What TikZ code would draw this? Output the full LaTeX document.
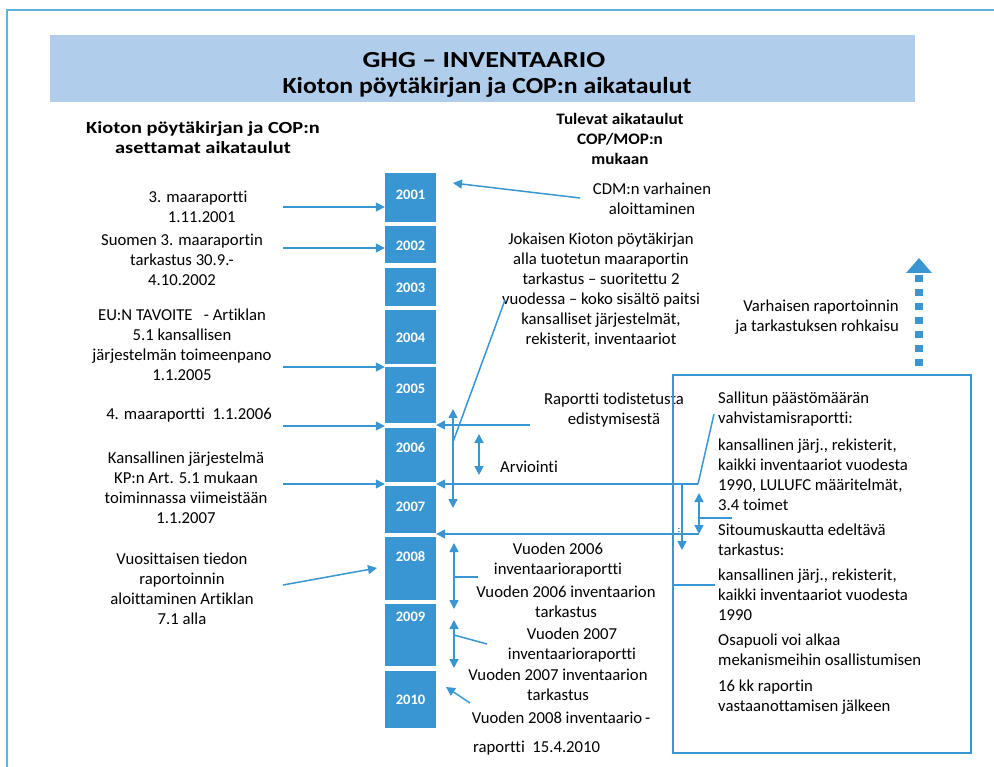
\documentclass[tikz,border=0pt]{standalone}
\usepackage{fontspec}
\usepackage{graphicx}
\setmainfont{Carlito}[Ligatures=NoCommon]
\usetikzlibrary{arrows.meta}
\definecolor{tlblue}{RGB}{57,150,211}
\definecolor{bandblue}{RGB}{176,205,235}
\definecolor{frameblue}{RGB}{98,176,226}
\newcommand{\widen}[2]{\scalebox{#1}[1]{\begin{tabular}{@{}c@{}}#2\end{tabular}}}
\tikzset{
  txt/.style={font=\fontsize{16.7}{20}\selectfont, align=center, inner sep=0pt},
  boxtxt/.style={font=\fontsize{16.7}{20}\selectfont, align=left, inner sep=0pt, anchor=west},
  hdr/.style={font=\bfseries\fontsize{17}{20}\selectfont, align=center, inner sep=0pt},
  yearbox/.style={fill=tlblue, minimum width=51pt, inner sep=0pt},
  yearlbl/.style={text=white, font=\bfseries\fontsize{14.5}{14.5}\selectfont, inner sep=0pt},
  link/.style={draw=tlblue, line width=1.5pt},
  arr/.style={link, -{Triangle[length=9pt,width=9pt]}},
  darr/.style={link, {Triangle[length=9pt,width=9pt]}-{Triangle[length=9pt,width=9pt]}},
}
\begin{document}
\begin{tikzpicture}[x=1pt,y=-1pt]
\useasboundingbox (0,0) rectangle (994,767);

% outer frame and title band
\draw[frameblue, line width=2pt] (7,767) -- (7,10) -- (994,10);
\node[fill=bandblue, minimum width=865pt, minimum height=67pt, inner sep=0pt] (band) at (482.5,68.5) {};
\node[font=\bfseries\fontsize{23}{27}\selectfont, inner sep=0pt] (title1) at (484,60)
  {\scalebox{1.22}[1]{GHG -- INVENTAARIO}};
\node[font=\bfseries\fontsize{23}{27}\selectfont, inner sep=0pt] (title2) at (487,87)
  {\scalebox{1.12}[1]{Kioton pöytäkirjan ja COP:n aikataulut}};

% column headings
\node[hdr] (lefthead) at (203,140) {\widen{1.2}{Kioton pöytäkirjan ja COP:n\\asettamat aikataulut}};
\node[font=\bfseries\fontsize{16}{20}\selectfont, inner sep=0pt] (midhead) at (620,141) {\widen{1.07}{Tulevat aikataulut\\COP/MOP:n\\mukaan}};

% year column
\foreach \nm/\cy/\h/\ly in {2001/197.5/49/195, 2002/244.5/37/246, 2003/287/38/288,
    2004/337/54/338, 2005/395/56/389, 2006/455/54/448, 2007/509.5/47/507,
    2008/568.5/63/557, 2009/635/62/617, 2010/699.5/57/700}{
  \node[yearbox, minimum height=\h pt] (y\nm) at (410.5,\cy) {};
  \node[yearlbl] (l\nm) at (410.5,\ly) {\nm};
}

% left column: deadlines set by the protocol
\node[txt] (t1) at (198,207) {3. maaraportti\\\ \ 1.11.2001};
\node[txt] (t2) at (182,260) {Suomen 3. maaraportin\\tarkastus 30.9.-\\4.10.2002};
\node[txt] (t3) at (182,345) {EU:N TAVOITE\ \ \ - Artiklan\\5.1 kansallisen\\järjestelmän toimeenpano\\1.1.2005};
\node[txt] (t4) at (189,415) {4. maaraportti\ \ 1.1.2006};
\node[txt] (t5) at (186,488) {Kansallinen järjestelmä\\KP:n Art. 5.1 mukaan\\toiminnassa viimeistään\\1.1.2007};
\node[txt] (t6) at (182,589) {Vuosittaisen tiedon\\raportoinnin\\aloittaminen Artiklan\\7.1 alla};

\coordinate (a1) at (283,207);
\coordinate (a2) at (283,248);
\coordinate (a3) at (283,367);
\coordinate (a4) at (283,426);
\coordinate (a5) at (283,484);
\coordinate (a6) at (283,585);
\coordinate (e6) at (377,568);
\draw[arr] (a1) -- (y2001.west |- a1);
\draw[arr] (a2) -- (y2002.west |- a2);
\draw[arr] (a3) -- (y2005.west |- a3);
\draw[arr] (a4) -- (y2006.west |- a4);
\draw[arr] (a5) -- (y2007.west |- a5);
\draw[arr] (a6) -- (e6);

% middle column: coming schedules
\node[txt] (cdm) at (652,199) {CDM:n varhainen\\aloittaminen};
\node[txt] (review) at (601,290) {Jokaisen Kioton pöytäkirjan\\alla tuotetun maaraportin\\tarkastus -- suoritettu 2\\vuodessa -- koko sisältö paitsi\\kansalliset järjestelmät,\\rekisterit, inventaariot};
\node[txt] (progress) at (614,410) {Raportti todistetusta\\edistymisestä};
\node[txt] (assess) at (529,467) {Arviointi};
\node[txt] (inv06) at (558,560) {Vuoden 2006\\inventaarioraportti};
\node[txt] (rev06) at (566,602) {Vuoden 2006 inventaarion\\tarkastus};
\node[txt] (inv07) at (572,645) {Vuoden 2007\\inventaarioraportti};
\node[txt] (rev07) at (558,685) {Vuoden 2007 inventaarion\\tarkastus};
\node[txt] (inv08) at (561,718) {Vuoden 2008 inventaario\,-};
\node[txt, anchor=west] (inv08b) at (473,748) {raportti\ \ 15.4.2010};

\coordinate (cdmS) at (580,198);
\coordinate (cdmE) at (453,183);
\draw[arr] (cdmS) -- (cdmE);
\coordinate (revS) at (505,300);
\coordinate (revE) at (453,442);
\draw[link] (revS) -- (revE);
\coordinate (v1a) at (453,409);
\coordinate (v1b) at (453,508);
\draw[darr] (v1a) -- (v1b);
\coordinate (prS) at (530,425);
\draw[arr] (prS) -- (y2006.east |- prS);
\coordinate (asA) at (479,434);
\coordinate (asB) at (479,475);
\draw[darr] (asA) -- (asB);

% long connectors from the right-hand box
\coordinate (h1) at (698,484);
\coordinate (h2) at (699,534);
\draw[arr] (h1) -- (y2007.east |- h1);
\draw[arr] (h2) -- (y2007.east |- h2);
\coordinate (dnA) at (682,484);
\coordinate (dnB) at (682,550);
\draw[arr] (dnA) -- (dnB);
\coordinate (v2a) at (699,493);
\draw[darr] (v2a) -- (h2);
\coordinate (brA) at (699,518);
\coordinate (brB) at (732,518);
\draw[link] (brA) -- (brB);
\coordinate (dg) at (714,414);
\draw[link] (h1) -- (dg);
\node[font=\fontsize{9}{9}\selectfont, inner sep=0pt] (colon) at (679,531) {:};

% lower middle connectors
\coordinate (v3a) at (454,543);
\coordinate (v3b) at (454,609);
\coordinate (v4a) at (454,620);
\coordinate (v4b) at (454,668);
\draw[darr] (v3a) -- (v3b);
\draw[darr] (v4a) -- (v4b);
\coordinate (b3a) at (454,577);
\coordinate (b3b) at (478,577);
\draw[link] (b3a) -- (b3b);
\coordinate (b4a) at (454,635);
\coordinate (b4b) at (487,644);
\draw[link] (b4a) -- (b4b);
\coordinate (p10) at (470,703);
\coordinate (e10) at (446,687);
\draw[arr] (p10) -- (e10);

% right-hand box
\node[draw=tlblue, line width=2.5pt, minimum width=298pt, minimum height=378pt, inner sep=0pt] (rbox) at (822,564) {};
\node[txt, align=right, anchor=east] (early) at (899,317) {Varhaisen raportoinnin\\ja tarkastuksen rohkaisu};
\coordinate (dotA) at (919,366);
\coordinate (dotB) at (919,258);
\draw[tlblue, line width=8pt, dash pattern=on 7pt off 7pt, -{Triangle[length=15pt,width=25pt]}] (dotA) -- (dotB);

\node[boxtxt] (r1) at (718,409.5) {Sallitun päästömäärän\\vahvistamisraportti:};
\node[boxtxt] (r2) at (718,475) {kansallinen järj., rekisterit,\\kaikki inventaariot vuodesta\\1990, LULUFC määritelmät,\\3.4 toimet};
\node[boxtxt] (r3) at (718,540) {Sitoumuskautta edeltävä\\tarkastus:};
\node[boxtxt] (r4) at (718,595) {kansallinen järj., rekisterit,\\kaikki inventaariot vuodesta\\1990};
\node[boxtxt] (r5) at (718,650) {Osapuoli voi alkaa\\mekanismeihin osallistumisen};
\node[boxtxt] (r6) at (718,697) {16 kk raportin\\vastaanottamisen jälkeen};

\coordinate (rl) at (715,585);
\draw[link] (rbox.west |- rl) -- (rl);
\end{tikzpicture}
\end{document}
